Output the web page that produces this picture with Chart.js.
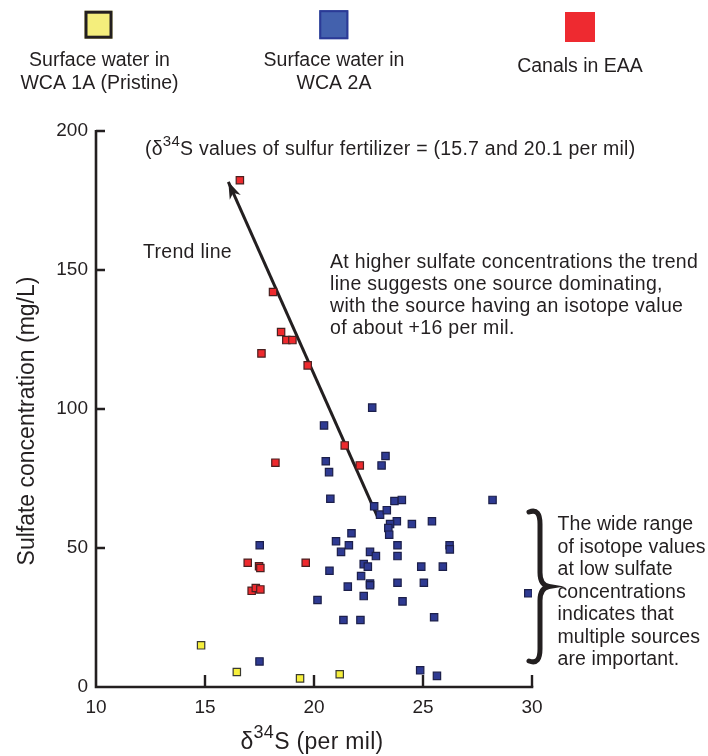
<!DOCTYPE html>
<html><head><meta charset="utf-8">
<script src="https://cdn.jsdelivr.net/npm/chart.js@4.4.1/dist/chart.umd.min.js"></script>
<style>html,body{margin:0;padding:0;background:#fff;}canvas{display:block;}</style>
</head><body>
<canvas id="c" width="708" height="756"></canvas>
<script>
// ---- data ----
const seriesNames = [["Surface water in", "WCA 1A (Pristine)"], ["Surface water in", "WCA 2A"], ["Canals in EAA"]];
const wca1aX = [14.82, 16.46, 19.36, 21.18];
const wca1aY = [15.0, 5.4, 3.1, 4.6];
const canalX = [16.6, 18.12, 18.49, 18.73, 19.01, 17.59, 19.71, 21.41, 18.23, 22.10, 16.96, 17.48, 17.54, 19.62, 17.14, 17.33, 17.54];
const canalY = [182.3, 142.1, 127.7, 124.8, 124.8, 120.0, 115.7, 86.9, 80.7, 79.7, 44.7, 43.4, 42.8, 44.7, 34.6, 35.6, 35.1];
const wca2aX = [22.67, 20.46, 20.54, 23.28, 23.10, 20.69, 20.75, 22.76, 23.03, 23.34, 23.69, 23.80, 23.49, 23.41, 23.45, 21.72, 21.01, 21.60, 21.24, 22.57, 22.84, 23.83, 23.83, 17.51, 20.71, 22.28, 22.47, 22.16, 22.57, 22.57, 23.83, 21.55, 22.28, 20.16, 21.35, 22.13, 17.50, 28.19, 25.41, 24.49, 24.03, 26.22, 26.23, 24.92, 25.91, 25.04, 24.06, 25.51, 29.83, 24.87, 25.64];
const wca2aY = [100.5, 94.1, 81.2, 83.1, 79.7, 77.3, 67.7, 65.0, 62.0, 63.6, 66.9, 59.6, 58.6, 57.2, 54.8, 55.3, 52.4, 51.0, 48.6, 48.6, 47.1, 51.0, 47.1, 51.0, 41.8, 44.2, 43.3, 39.9, 37.2, 36.6, 37.5, 36.1, 32.7, 31.3, 24.1, 24.1, 9.2, 67.3, 59.6, 58.6, 67.3, 51.0, 49.5, 43.3, 43.3, 37.5, 30.8, 25.1, 33.7, 6.0, 4.0];
const trendX = [22.9, 16.07];
const trendY = [61.5, 181.7];
const xTickValues = [10, 15, 20, 25, 30];
const yTickValues = [0, 50, 100, 150, 200];
const xTitle = [["δ", false], ["34", true], ["S (per mil)", false]];
const yTitle = "Sulfate concentration (mg/L)";
const noteTop = [["(δ", false], ["34", true], ["S values of sulfur fertilizer = (15.7 and 20.1 per mil)", false]];
const noteTrend = "Trend line";
const noteHigh = ["At higher sulfate concentrations the trend", "line suggests one source dominating,", "with the source having an isotope value", "of about +16 per mil."];
const noteLow = ["The wide range", "of isotope values", "at low sulfate", "concentrations", "indicates that", "multiple sources", "are important."];

// ---- styles ----
const FONT = '"Liberation Sans", Arial, Helvetica, sans-serif';
const INK = '#231f20';
const fills = ['#f6ef3c', '#2e3a92', '#ee2a2e'];
const borders = ['#3a3a30', '#1c1f4a', '#4a2020'];

const toPts = (xs, ys) => xs.map((x, i) => ({x: x, y: ys[i]}));

function drawRich(ctx, parts, x, y, size, align) {
  const supSize = Math.round(size * 0.78);
  let total = 0;
  parts.forEach(([t, sup]) => { ctx.font = (sup ? supSize : size) + 'px ' + FONT; total += ctx.measureText(t).width; });
  let cx = align === 'center' ? x - total / 2 : x;
  ctx.textAlign = 'left';
  ctx.textBaseline = 'middle';
  parts.forEach(([t, sup]) => {
    ctx.font = (sup ? supSize : size) + 'px ' + FONT;
    ctx.fillText(t, cx, sup ? y - size * 0.42 : y);
    cx += ctx.measureText(t).width;
  });
}

const decor = {
  id: 'decor',
  afterDatasetsDraw(chart) {
    const ctx = chart.ctx;
    const xs = chart.scales.x, ys = chart.scales.y;
    ctx.save();
    // arrowhead on trend line
    const x0 = xs.getPixelForValue(trendX[0]), y0 = ys.getPixelForValue(trendY[0]);
    const x1 = xs.getPixelForValue(trendX[1]), y1 = ys.getPixelForValue(trendY[1]);
    const L = Math.hypot(x1 - x0, y1 - y0), ux = (x1 - x0) / L, uy = (y1 - y0) / L;
    const px = -uy, py = ux;
    ctx.fillStyle = INK;
    ctx.beginPath();
    ctx.moveTo(x1, y1);
    ctx.lineTo(x1 - ux * 17 + px * 6, y1 - uy * 17 + py * 6);
    ctx.lineTo(x1 - ux * 12, y1 - uy * 12);
    ctx.lineTo(x1 - ux * 17 - px * 6, y1 - uy * 17 - py * 6);
    ctx.closePath();
    ctx.fill();
    ctx.restore();
  },
  afterDraw(chart) {
    const ctx = chart.ctx;
    const xs = chart.scales.x, ys = chart.scales.y;
    const ca = chart.chartArea;
    ctx.save();
    // axes
    ctx.strokeStyle = INK;
    ctx.lineWidth = 2.6;
    ctx.lineCap = 'butt';
    const yTop = ys.getPixelForValue(yTickValues[yTickValues.length - 1]);
    ctx.beginPath();
    ctx.moveTo(ca.left, yTop - 1);
    ctx.lineTo(ca.left, ca.bottom + 1.3);
    ctx.moveTo(ca.left - 1.3, ca.bottom);
    ctx.lineTo(xs.getPixelForValue(xTickValues[xTickValues.length - 1]) + 1.3, ca.bottom);
    ctx.stroke();
    ctx.lineWidth = 2.4;
    ctx.beginPath();
    xTickValues.slice(1).forEach(v => { const p = xs.getPixelForValue(v); ctx.moveTo(p, ca.bottom); ctx.lineTo(p, ca.bottom - 12); });
    yTickValues.slice(1).forEach(v => { const p = ys.getPixelForValue(v); ctx.moveTo(ca.left, p); ctx.lineTo(ca.left + 9, p); });
    ctx.stroke();

    ctx.fillStyle = INK;
    // axis titles
    ctx.letterSpacing = '0.3px';
    drawRich(ctx, xTitle, (xs.left + xs.right) / 2 - 2, 743, 23, 'center');
    ctx.letterSpacing = '0px';
    ctx.save();
    ctx.translate(28, 421);
    ctx.rotate(-Math.PI / 2);
    ctx.font = '23px ' + FONT;
    ctx.textAlign = 'center';
    ctx.textBaseline = 'middle';
    ctx.fillText(yTitle, 0, 0);
    ctx.restore();

    // legend
    const legend = [
      {cx: 98.5, cy: 24.7, s: 28, fill: '#f4ee7c', stroke: INK, lw: 3, tx: 99.5, ty: [60.7, 84]},
      {cx: 333.8, cy: 24.7, s: 29, fill: '#4361ad', stroke: '#2b3a96', lw: 2, tx: 334, ty: [60.7, 84]},
      {cx: 580, cy: 27, s: 30, fill: '#ee2a30', stroke: null, lw: 0, tx: 580, ty: [66.7]}
    ];
    legend.forEach((l, i) => {
      ctx.fillStyle = l.fill;
      ctx.fillRect(l.cx - l.s / 2, l.cy - l.s / 2, l.s, l.s);
      if (l.stroke) {
        ctx.strokeStyle = l.stroke; ctx.lineWidth = l.lw;
        ctx.strokeRect(l.cx - l.s / 2 + l.lw / 2, l.cy - l.s / 2 + l.lw / 2, l.s - l.lw, l.s - l.lw);
      }
      ctx.fillStyle = INK;
      ctx.font = '19.5px ' + FONT;
      ctx.textAlign = 'center';
      ctx.textBaseline = 'middle';
      seriesNames[i].forEach((t, k) => ctx.fillText(t, l.tx, l.ty[k]));
    });

    // annotations
    ctx.fillStyle = INK;
    ctx.letterSpacing = '0.25px';
    drawRich(ctx, noteTop, 145, 150, 19.5, 'left');
    ctx.letterSpacing = '0.3px';
    ctx.font = '19.5px ' + FONT;
    ctx.textAlign = 'left';
    ctx.textBaseline = 'middle';
    ctx.fillText(noteTrend, 143, 253);
    noteHigh.forEach((t, k) => ctx.fillText(t, 330, 263 + k * 22));
    ctx.letterSpacing = '0.1px';
    noteLow.forEach((t, k) => ctx.fillText(t, 557.5, 525 + k * 22.5));
    ctx.letterSpacing = '0px';

    // brace
    const bx = ca.right + 8, t0 = 510, t1 = 663, tm = (t0 + t1) / 2;
    ctx.strokeStyle = INK;
    ctx.lineWidth = 5;
    ctx.lineCap = 'round';
    ctx.beginPath();
    ctx.moveTo(bx - 11, t0 + 2);
    ctx.bezierCurveTo(bx - 3, t0 - 1, bx, t0 + 4, bx, t0 + 14);
    ctx.lineTo(bx, tm - 14);
    ctx.bezierCurveTo(bx, tm - 6, bx + 3, tm - 1, bx + 9, tm);
    ctx.bezierCurveTo(bx + 3, tm + 1, bx, tm + 6, bx, tm + 14);
    ctx.lineTo(bx, t1 - 14);
    ctx.bezierCurveTo(bx, t1 - 4, bx - 3, t1 + 1, bx - 11, t1 - 2);
    ctx.stroke();
    ctx.restore();
  }
};

const ptStyle = i => ({
  backgroundColor: fills[i], borderColor: borders[i], borderWidth: 1.2,
  pointStyle: 'rect', pointRadius: 5.2, pointHoverRadius: 5.2
});

new Chart(document.getElementById('c'), {
  type: 'scatter',
  data: {
    datasets: [
      {type: 'line', label: 'Trend line', data: toPts(trendX, trendY), borderColor: INK, borderWidth: 3, pointRadius: 0, fill: false, showLine: true, order: 5},
      Object.assign({label: seriesNames[0].join(' '), data: toPts(wca1aX, wca1aY), order: 1}, ptStyle(0)),
      Object.assign({label: seriesNames[1].join(' '), data: toPts(wca2aX, wca2aY), order: 2}, ptStyle(1)),
      Object.assign({label: seriesNames[2].join(' '), data: toPts(canalX, canalY), order: 3}, ptStyle(2))
    ]
  },
  options: {
    responsive: false,
    animation: false,
    devicePixelRatio: 1,
    layout: {padding: {top: 131, right: 176, bottom: 0, left: 0}},
    plugins: {legend: {display: false}, tooltip: {enabled: false}},
    scales: {
      x: {
        type: 'linear', min: 10, max: 30,
        afterBuildTicks: s => { s.ticks = xTickValues.map(v => ({value: v})); },
        afterFit: s => { s.height = 69; },
        grid: {display: false, drawTicks: false}, border: {display: false},
        ticks: {font: {size: 19, family: FONT}, color: INK, padding: 9, maxRotation: 0}
      },
      y: {
        type: 'linear', min: 0, max: 200,
        afterBuildTicks: s => { s.ticks = yTickValues.map(v => ({value: v})); },
        afterFit: s => { s.width = 96; },
        grid: {display: false, drawTicks: false}, border: {display: false},
        ticks: {font: {size: 19, family: FONT}, color: INK, padding: 8}
      }
    }
  },
  plugins: [decor]
});
</script>
</body></html>
